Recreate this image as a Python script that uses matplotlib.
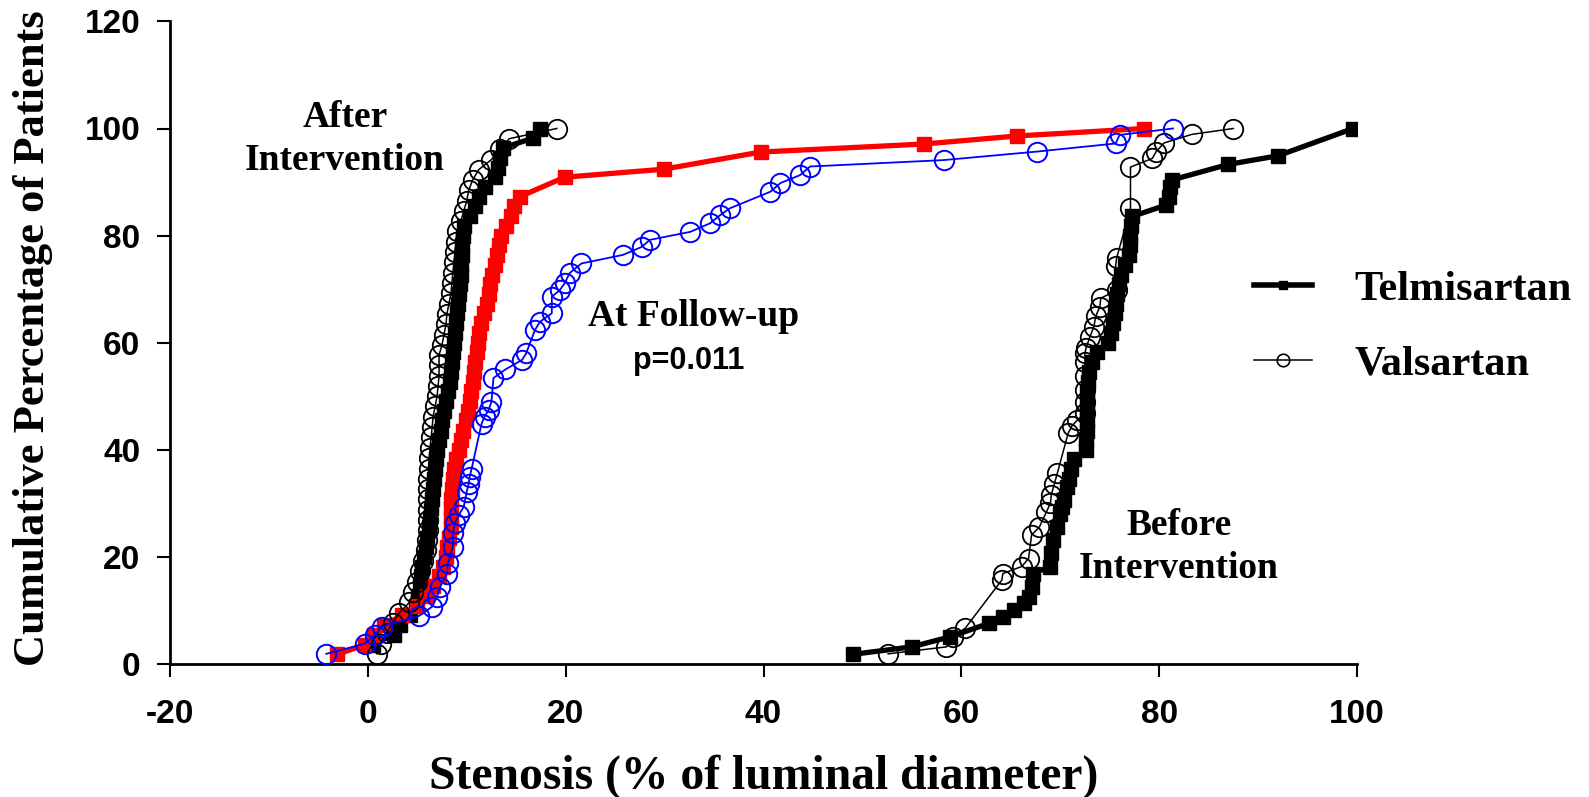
import matplotlib
matplotlib.use("Agg")
import matplotlib.pyplot as plt
from matplotlib.lines import Line2D

# ---------------- data (stenosis %, cumulative % of patients) ----------------
# After intervention - Telmisartan
telmi_after_x = [0.5, 2.6, 3.3, 4.3, 4.9, 5.1, 5.3, 5.4, 5.5, 5.7, 5.9, 6.0, 6.2, 6.3,
                 6.4, 6.5, 6.6, 6.7, 6.8, 6.9, 7.0, 7.2, 7.4, 7.5, 7.7, 7.9, 8.1, 8.3,
                 8.4, 8.5, 8.6, 8.7, 8.8, 8.9, 9.0, 9.1, 9.2, 9.3, 9.4, 9.4, 9.5, 9.5,
                 9.6, 9.7, 10.3, 10.8, 11.2, 11.8, 12.9, 13.2, 13.4, 13.7, 16.7, 17.4]
telmi_after_y = [3.6, 5.5, 7.3, 9.1, 10.9, 12.7, 14.5, 16.4, 18.2, 20.0, 21.8, 23.6, 25.5, 27.3,
                 29.1, 30.9, 32.7, 34.5, 36.4, 38.2, 40.0, 41.8, 43.6, 45.5, 47.3, 49.1, 50.9, 52.7,
                 54.5, 56.4, 58.2, 60.0, 61.8, 63.6, 65.5, 67.3, 69.1, 70.9, 72.7, 74.5, 76.4, 78.2,
                 80.0, 81.8, 83.6, 85.5, 87.3, 89.1, 90.9, 92.7, 94.5, 96.4, 98.2, 100.0]

# After intervention - Valsartan
vals_after_x = [0.9, 1.3, 1.9, 2.5, 3.2, 4.2, 4.6, 5.0, 5.3, 5.6, 5.9, 6.0, 6.1, 6.1,
                6.1, 6.1, 6.1, 6.1, 6.2, 6.2, 6.3, 6.4, 6.5, 6.6, 6.8, 7.0, 7.1, 7.2,
                7.2, 7.2, 7.5, 7.7, 7.9, 8.0, 8.2, 8.4, 8.5, 8.6, 8.7, 8.8, 8.9, 9.0,
                9.4, 9.7, 10.0, 10.2, 10.6, 11.2, 12.5, 13.4, 14.3, 19.1]
vals_after_y = [1.9, 3.8, 5.8, 7.7, 9.6, 11.5, 13.5, 15.4, 17.3, 19.2, 21.2, 23.1, 25.0, 26.9,
                28.8, 30.8, 32.7, 34.6, 36.5, 38.5, 40.4, 42.3, 44.2, 46.2, 48.1, 50.0, 51.9, 53.8,
                55.8, 57.7, 59.6, 61.5, 63.5, 65.4, 67.3, 69.2, 71.2, 73.1, 75.0, 76.9, 78.8, 80.8,
                82.7, 84.6, 86.5, 88.5, 90.4, 92.3, 94.2, 96.2, 98.1, 100.0]

# At follow-up - Telmisartan
telmi_fu_x = [-3.1, -0.3, 0.6, 1.6, 3.5, 5.0, 6.0, 6.6, 7.2, 7.6, 7.9, 8.0, 8.2, 8.4,
              8.4, 8.4, 8.4, 8.5, 8.6, 8.7, 8.9, 9.2, 9.4, 9.6, 9.9, 10.1, 10.3, 10.4,
              10.6, 10.7, 10.8, 11.0, 11.1, 11.2, 11.4, 11.7, 12.0, 12.2, 12.4, 12.6, 12.9,
              13.1, 13.3, 13.5, 14.0, 14.5, 14.8, 15.4, 19.9, 29.9, 39.7, 56.2, 65.6, 78.5]
telmi_fu_y = [1.8, 3.6, 5.5, 7.3, 9.1, 10.9, 12.7, 14.5, 16.4, 18.2, 20.0, 21.8, 23.6, 25.5,
              27.3, 29.1, 30.9, 32.7, 34.5, 36.4, 38.2, 40.0, 41.8, 43.6, 45.5, 47.3, 49.1, 50.9,
              52.7, 54.5, 56.4, 58.2, 60.0, 61.8, 63.6, 65.5, 67.3, 69.1, 70.9, 72.7, 74.5,
              76.4, 78.2, 80.0, 81.8, 83.6, 85.5, 87.3, 90.9, 92.4, 95.6, 97.1, 98.6, 100.0]

# At follow-up - Valsartan
vals_fu_x = [-4.2, -0.3, 0.7, 1.4, 5.2, 6.5, 7.0, 7.3, 8.0, 8.1, 8.6, 8.6, 8.8, 9.2,
             9.7, 10.0, 10.2, 10.3, 10.5, 11.5, 11.8, 12.2, 12.5, 12.7, 13.9, 15.6, 16.0,
             16.9, 17.4, 18.6, 18.6, 19.4, 19.9, 20.4, 21.6, 25.8, 27.7, 28.5, 32.6, 34.6,
             35.6, 36.6, 40.7, 41.7, 43.7, 44.7, 58.2, 67.7, 75.6, 76.0, 81.4]
vals_fu_y = [1.9, 3.8, 5.4, 7.0, 9.0, 10.7, 12.6, 14.4, 16.9, 18.8, 21.9, 24.4, 26.3, 27.8,
             29.4, 32.2, 33.7, 35.0, 36.5, 44.9, 46.2, 47.4, 49.0, 53.4, 55.0, 56.8, 58.0,
             62.4, 63.9, 65.5, 68.6, 69.8, 71.1, 73.0, 74.8, 76.4, 77.9, 79.2, 80.7, 82.3,
             83.8, 85.1, 88.2, 89.8, 91.3, 92.9, 94.1, 95.7, 97.2, 98.8, 100.0]

# Before intervention - Telmisartan
telmi_before_x = [49.0, 55.0, 58.9, 62.8, 64.2, 65.3, 66.3, 66.8, 67.1, 67.2, 69.0, 69.1,
                  69.3, 69.7, 70.0, 70.2, 70.4, 70.7, 70.9, 71.1, 71.4, 72.6, 72.6, 72.7,
                  72.7, 72.7, 72.7, 72.7, 72.8, 72.9, 73.2, 73.7, 74.8, 75.1, 75.3, 75.5,
                  75.6, 75.7, 75.9, 76.1, 76.5, 76.9, 77.1, 77.1, 77.2, 77.3, 80.7, 81.0,
                  81.1, 81.3, 87.0, 92.0, 99.6]
telmi_before_y = [1.8, 3.2, 5.1, 7.6, 8.8, 10.1, 11.3, 12.6, 14.4, 16.9, 18.2, 20.7,
                  23.2, 25.6, 28.1, 29.4, 30.6, 33.1, 34.5, 36.4, 38.2, 40.0, 41.8, 43.6,
                  45.5, 47.3, 49.1, 50.9, 52.7, 54.5, 56.4, 58.2, 60.0, 61.8, 63.6, 65.5,
                  67.3, 69.1, 70.9, 72.7, 74.5, 76.4, 78.2, 80.0, 81.8, 83.6, 85.7, 87.3,
                  89.1, 90.4, 93.3, 94.9, 100.0]

# Before intervention - Valsartan
vals_before_x = [52.6, 58.5, 59.2, 60.4, 64.1, 64.2, 66.1, 66.8, 67.1, 67.9, 68.6, 69.0,
                 69.1, 69.4, 69.7, 70.8, 71.2, 71.7, 72.5, 72.5, 72.5, 72.5, 72.5, 72.5,
                 72.6, 73.0, 73.4, 73.6, 74.0, 74.1, 75.7, 75.6, 75.7, 77.1, 77.1, 79.3,
                 79.7, 80.5, 83.3, 87.5]
vals_before_y = [1.9, 3.2, 5.1, 6.7, 15.7, 16.9, 18.2, 19.7, 24.1, 25.6, 28.4, 30.0,
                 31.6, 33.6, 35.6, 43.1, 44.5, 45.5, 46.8, 49.0, 51.2, 53.7, 56.4, 58.0,
                 59.0, 61.1, 63.0, 65.0, 66.7, 68.3, 69.8, 74.4, 75.8, 85.1, 92.8, 94.4,
                 95.7, 97.3, 98.9, 100.0]

x_ticks = [-20, 0, 20, 40, 60, 80, 100]
y_ticks = [0, 20, 40, 60, 80, 100, 120]

# ---------------- figure ----------------
W, H = 1589, 797
fig = plt.figure(figsize=(W / 100, H / 100), dpi=100)
ax = fig.add_axes([170 / W, 1 - 664 / H, (1357 - 170) / W, (664 - 21.4) / H])

serif = "Liberation Serif"
sans = "Liberation Sans"

tel_kw = dict(color="black", lw=3.8, marker="s", ms=10.5, mec="black", mfc="black")
val_kw = dict(color="black", lw=1.1, marker="o", ms=14, mec="black", mfc="none", mew=1.3)

# Telmisartan curves
ax.plot(telmi_before_x, telmi_before_y, **tel_kw, zorder=3)
ax.plot(telmi_after_x, telmi_after_y, **tel_kw, zorder=3)
ax.plot(telmi_fu_x, telmi_fu_y, color="#ff0000", lw=3.8, marker="s", ms=10.5,
        mec="#ff0000", mfc="#ff0000", zorder=3)
# Valsartan curves
ax.plot(vals_before_x, vals_before_y, **val_kw, zorder=4)
ax.plot(vals_after_x, vals_after_y, **val_kw, zorder=4)
ax.plot(vals_fu_x, vals_fu_y, color="#0000ff", lw=1.3, marker="o", ms=14,
        mec="#0000ff", mfc="none", mew=1.4, zorder=4)

ax.set_xlim(-20, 100)
ax.set_ylim(0, 120)
ax.set_xticks(x_ticks)
ax.set_yticks(y_ticks)
ax.set_xticklabels([str(v) for v in x_ticks], fontfamily=sans, fontweight="bold", fontsize=24)
ax.set_yticklabels([str(v) for v in y_ticks], fontfamily=sans, fontweight="bold", fontsize=24)
ax.tick_params(axis="x", direction="out", length=9.5, width=1.5, pad=16)
ax.tick_params(axis="y", direction="out", length=9.5, width=1.5, pad=12)

for s in ["top", "right"]:
    ax.spines[s].set_visible(False)
for s in ["left", "bottom"]:
    ax.spines[s].set_linewidth(2.0)

ax.set_xlabel("Stenosis (% of luminal diameter)", fontfamily=serif, fontweight="bold", fontsize=34.3)
ax.xaxis.set_label_coords(0.5, (664 - 776.5) / (664 - 21.4))
ax.xaxis.label.set_verticalalignment("center")
ax.set_ylabel("Cumulative Percentage of Patients", fontfamily=serif, fontweight="bold", fontsize=32)
ax.yaxis.set_label_coords((33 - 170) / (1357 - 170), (664 - 338) / (664 - 21.4))
ax.yaxis.label.set_verticalalignment("center")

# annotations
ann = dict(fontfamily=serif, fontweight="bold", fontsize=27, ha="center", va="center",
           linespacing=1.3)
ax.text(-2.3, 98.0, "After\nIntervention", **ann)
ax.text(82.0, 21.8, "Before\nIntervention", **ann)
ax.text(32.9, 64.8, "At Follow-up", **ann)
ax.text(32.4, 56.6, "p=0.011", fontfamily=sans, fontweight="bold", fontsize=22,
        ha="center", va="center")

# legend
handles = [
    Line2D([], [], color="black", lw=4, marker="s", ms=6, mfc="black", mec="black"),
    Line2D([], [], color="black", lw=1.1, marker="o", ms=9, mfc="none", mec="black", mew=1.2),
]
fig.legend(handles, ["Telmisartan", "Valsartan"], loc="center left",
           bbox_to_anchor=(1254 / W, 1 - 327 / H), frameon=False,
           prop=dict(family=serif, weight="bold", size=30.5),
           handlelength=1.37, handletextpad=1.0, labelspacing=0.85,
           borderpad=0, borderaxespad=0)

fig.savefig("out.png", dpi=100)
